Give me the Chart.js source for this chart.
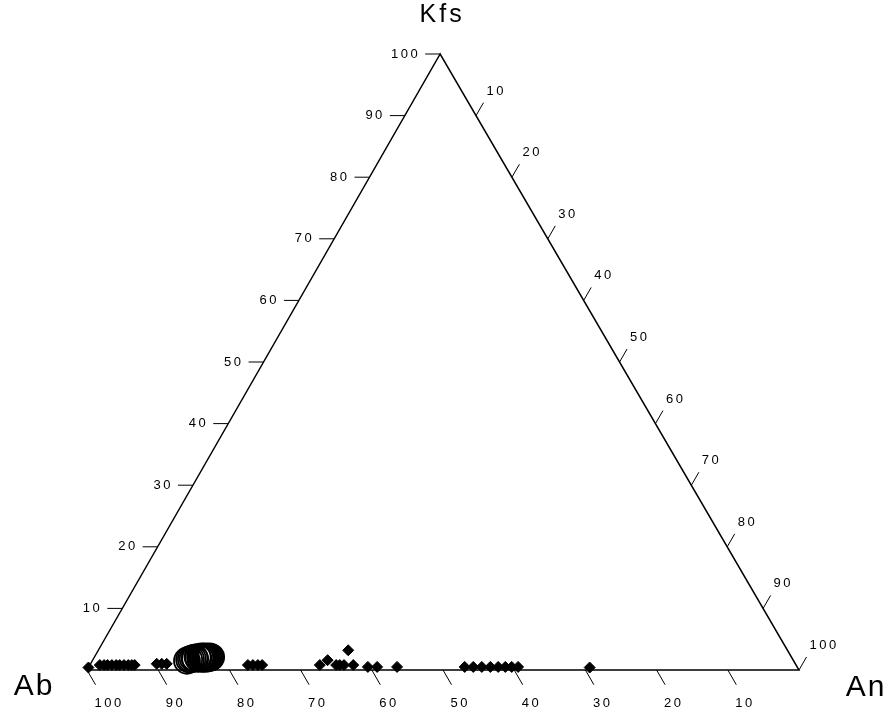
<!DOCTYPE html>
<html lang="en">
<head>
<meta charset="UTF-8">
<title>Ab - An - Kfs ternary</title>
<script src="https://cdn.jsdelivr.net/npm/chart.js"></script>
<style>
    html, body { margin: 0; padding: 0; background: #fff; }
    #wrap { width: 892px; height: 713px; }
</style>
</head>
<body>
<div id="wrap"><canvas id="ternary" width="892" height="713"></canvas></div>
<script>
// feldspar compositions (mol %), Ab = 100 - An - Kfs
const plagAn  = [0.0, 1.4, 2.0, 2.5, 3.1, 3.7, 4.2, 4.8, 5.4, 5.9, 6.3, 9.3, 10.0, 10.7,
                 22.2, 22.9, 23.6, 24.2, 32.3, 33.0, 34.6, 35.1, 35.7, 35.1, 37.0, 39.2, 40.5, 43.3,
                 52.8, 54.0, 55.2, 56.4, 57.5, 58.5, 59.4, 60.3, 70.4];
const plagKfs = [0.4, 0.8, 0.8, 0.8, 0.8, 0.8, 0.8, 0.8, 0.8, 0.8, 0.8, 1.0, 1.0, 1.0,
                 0.8, 0.8, 0.8, 0.8, 0.8, 1.6, 0.8, 0.8, 0.8, 3.2, 0.8, 0.5, 0.5, 0.5,
                 0.5, 0.5, 0.5, 0.5, 0.5, 0.5, 0.5, 0.5, 0.4];
const circAn  = [13.3, 13.5, 13.7, 13.9, 14.1, 14.3, 14.5, 14.7, 14.9, 15.0, 15.1, 15.2,
                 15.3, 15.4, 15.5, 15.6, 15.7, 15.8, 15.9, 16.0, 16.1, 16.2, 16.3, 16.4];
const circKfs = [1.5, 1.7, 1.8, 1.9, 2.0, 1.8, 2.1, 1.9, 2.0, 2.2, 1.8, 2.0,
                 2.1, 1.9, 2.2, 2.0, 1.8, 2.1, 1.9, 2.0, 2.2, 1.9, 2.0, 2.1];

// triangle corners: Ab, Kfs, An, back to Ab
const cornerAn  = [0, 0, 100, 0];
const cornerKfs = [0, 100, 0, 0];

const kfsTicks = [10, 20, 30, 40, 50, 60, 70, 80, 90, 100];
const anTicks  = [10, 20, 30, 40, 50, 60, 70, 80, 90, 100];
const abTicks  = [100, 90, 80, 70, 60, 50, 40, 30, 20, 10];

const H = Math.sqrt(3) / 2;
const SKEW = 0.496;   // apex sits a touch left of centre in the original
function toXY(an, kfs) {
    return { x: an + kfs * SKEW, y: kfs * H };
}
function pts(an, kfs) {
    return an.map((a, i) => toXY(a, kfs[i]));
}

const axisFont = '13px "Liberation Sans", Arial, sans-serif';

const ternaryAxes = {
    id: 'ternaryAxes',
    afterDatasetsDraw(chart) {
        const ctx = chart.ctx;
        const sx = chart.scales.x, sy = chart.scales.y;
        const px = p => ({ x: sx.getPixelForValue(p.x), y: sy.getPixelForValue(p.y) });
        ctx.save();
        ctx.strokeStyle = '#000';
        ctx.fillStyle = '#000';
        ctx.lineWidth = 1;
        ctx.font = axisFont;
        ctx.letterSpacing = '2.5px';

        // Kfs ticks on the left edge
        ctx.textAlign = 'right';
        ctx.textBaseline = 'middle';
        kfsTicks.forEach(k => {
            const p = px(toXY(0, k));
            ctx.beginPath();
            ctx.moveTo(p.x, p.y);
            ctx.lineTo(p.x - 15, p.y);
            ctx.stroke();
            ctx.fillText(String(k), p.x - 20, p.y);
        });

        // An ticks on the right edge
        ctx.textAlign = 'left';
        ctx.textBaseline = 'bottom';
        anTicks.forEach(a => {
            const p = px(toXY(a, 100 - a));
            const ex = p.x + 15 * 0.5, ey = p.y - 15 * H;
            ctx.beginPath();
            ctx.moveTo(p.x, p.y);
            ctx.lineTo(ex, ey);
            ctx.stroke();
            ctx.fillText(String(a), ex + 3, ey - 5);
        });

        // Ab ticks on the base
        ctx.textAlign = 'left';
        ctx.textBaseline = 'top';
        abTicks.forEach(b => {
            const p = px(toXY(100 - b, 0));
            const ex = p.x + 17 * 0.5, ey = p.y + 17 * H;
            ctx.beginPath();
            ctx.moveTo(p.x, p.y);
            ctx.lineTo(ex, ey);
            ctx.stroke();
            ctx.fillText(String(b), ex - 1, ey + 12);
        });

        // end member names
        ctx.textAlign = 'center';
        ctx.textBaseline = 'middle';
        ctx.letterSpacing = '3px';
        const top = px(toXY(0, 100)), left = px(toXY(0, 0)), right = px(toXY(100, 0));
        ctx.font = '25px "Liberation Sans", Arial, sans-serif';
        ctx.fillText('Kfs', top.x + 2, top.y - 39);
        ctx.letterSpacing = '2px';
        ctx.font = '30px "Liberation Sans", Arial, sans-serif';
        ctx.fillText('Ab', left.x - 53, left.y + 17);
        ctx.fillText('An', right.x + 67, right.y + 18);
        ctx.restore();
    }
};

new Chart(document.getElementById('ternary'), {
    type: 'scatter',
    data: {
        datasets: [
            {
                label: 'Kfs inclusions',
                data: pts(circAn, circKfs),
                pointStyle: 'circle',
                pointRadius: 13,
                backgroundColor: 'rgba(0,0,0,0)',
                borderColor: '#000',
                borderWidth: 1.8,
                clip: false
            },
            {
                label: 'Plagioclase',
                data: pts(plagAn, plagKfs),
                pointStyle: 'rectRot',
                pointRadius: 5.5,
                backgroundColor: '#000',
                borderColor: '#000',
                borderWidth: 1,
                clip: false
            },
            {
                type: 'line',
                label: 'frame',
                data: pts(cornerAn, cornerKfs),
                borderColor: '#000',
                borderWidth: 1.5,
                pointRadius: 0,
                fill: false,
                tension: 0,
                clip: false
            }
        ]
    },
    options: {
        responsive: false,
        animation: false,
        devicePixelRatio: 1,
        layout: { padding: { left: 87, right: 93, top: 54, bottom: 43 } },
        scales: {
            x: { type: 'linear', min: 0, max: 100, display: false },
            y: { type: 'linear', min: 0, max: 100 * H, display: false }
        },
        plugins: {
            legend: { display: false },
            tooltip: { enabled: false }
        }
    },
    plugins: [ternaryAxes]
});
</script>
</body>
</html>
